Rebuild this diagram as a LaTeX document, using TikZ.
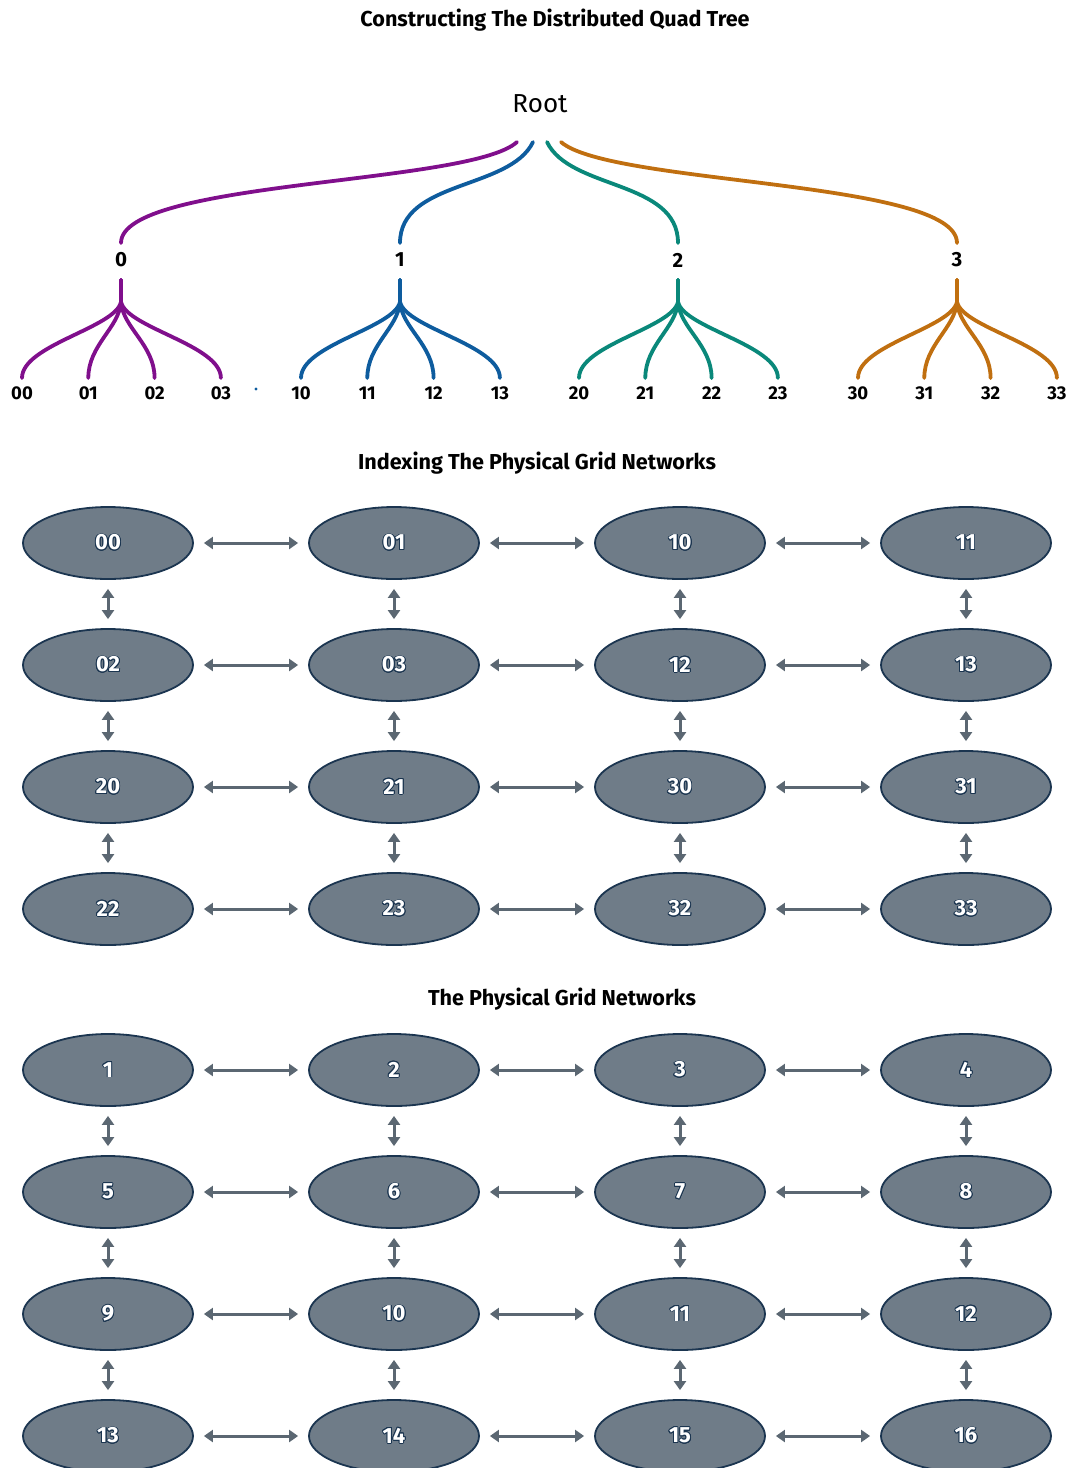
\documentclass[tikz,border=0pt]{standalone}
\usepackage{fontspec}
\setmainfont{Fira Sans}
\usepackage{contour}
\contourlength{0.9pt}
\usetikzlibrary{shapes.geometric,arrows.meta}
\definecolor{cpurple}{HTML}{800F8C}
\definecolor{cblue}{HTML}{0E5C9E}
\definecolor{cteal}{HTML}{0A887A}
\definecolor{corange}{HTML}{C06F10}
\definecolor{ellfill}{HTML}{6F7C88}
\definecolor{elldraw}{HTML}{1B3550}
\definecolor{arrcol}{HTML}{5B6772}
\tikzset{
  title/.style={font=\bfseries\fontsize{21.6}{24}\selectfont, inner sep=0},
  lvlone/.style={font=\bfseries\fontsize{20.5}{24}\selectfont, inner sep=0},
  lvltwo/.style={font=\bfseries\fontsize{18.5}{20}\selectfont, inner sep=0},
  branch/.style={line width=3.8pt, line cap=round},
  gnode/.style={ellipse, minimum width=170pt, minimum height=72pt, inner sep=0, fill=ellfill, draw=elldraw, line width=1.8pt, text=white},
  link/.style={arrcol, line width=3pt, {Triangle[length=9pt,width=12pt]}-{Triangle[length=9pt,width=12pt]}},
  hlink/.style={link, shorten <=10pt, shorten >=10pt},
  vlink/.style={link, shorten <=9pt, shorten >=9pt},
}
\newcommand{\glab}[1]{\bfseries\fontsize{22}{24}\selectfont\contour{elldraw}{#1}}
\begin{document}
\begin{tikzpicture}[x=1pt,y=-1pt]
\useasboundingbox (0,0) rectangle (1070,1468);
\clip (0,0) rectangle (1070,1468);
% ---------------- Tree ----------------
\node[title] (t1) at (555,20) {Constructing The Distributed Quad Tree};
\node[inner sep=0, font=\fontsize{26}{30}\selectfont] (root) at (540,104) {Root};
\foreach \i/\x/\c in {0/121/cpurple,1/400/cblue,2/678/cteal,3/957/corange}{
  \node[lvlone] (n\i) at (\x,260) {\i};
}
\coordinate (r0) at (517,142);
\coordinate (r1) at (533,142);
\coordinate (r2) at (547,142);
\coordinate (r3) at (561,142);
\draw[branch,cpurple] (r0) .. controls (470,185) and (121,180) .. ([yshift=17pt]n0.center);
\draw[branch,cblue] (r1) .. controls (510,190) and (400,180) .. ([yshift=17pt]n1.center);
\draw[branch,cteal] (r2) .. controls (570,190) and (678,180) .. ([yshift=17pt]n2.center);
\draw[branch,corange] (r3) .. controls (610,185) and (957,180) .. ([yshift=17pt]n3.center);
\foreach \i/\x/\c in {0/121/cpurple,1/400/cblue,2/678/cteal,3/957/corange}{
  \coordinate (j\i) at (\x,302);
  \foreach \j in {0,1,2,3}{
    \pgfmathsetmacro{\cx}{\x-99+66.3*\j}
    \node[lvltwo] (m\i\j) at (\cx,393) {\i\j};
    \pgfmathsetmacro{\dx}{\cx-\x}
    \draw[branch,\c] ([yshift=-20pt]n\i.center) -- (j\i)
      .. controls ([xshift={\dx*0.06},yshift=-26pt]j\i) and ([yshift=48pt]m\i\j.center) .. ([yshift=15pt]m\i\j.center);
  }
}
\fill[cblue] (256,389) circle (1.6pt);
% ---------------- Grid 1 ----------------
\node[title] (t2) at (537,463) {Indexing The Physical Grid Networks};
\foreach \lab [count=\k from 0] in {00,01,10,11,02,03,12,13,20,21,30,31,22,23,32,33}{
  \pgfmathtruncatemacro{\col}{mod(\k,4)}
  \pgfmathtruncatemacro{\row}{div(\k,4)}
  \node[gnode] (a\row\col) at ({108+286*\col},{543+122*\row}) {\glab{\lab}};
}
\foreach \r in {0,1,2,3}{
  \foreach \c/\d in {0/1,1/2,2/3}{
    \draw[hlink] (a\r\c.east) -- (a\r\d.west);
  }
}
\foreach \c in {0,1,2,3}{
  \foreach \r/\s in {0/1,1/2,2/3}{
    \draw[vlink] (a\r\c.south) -- (a\s\c.north);
  }
}
% ---------------- Grid 2 ----------------
\node[title] (t3) at (562,999) {The Physical Grid Networks};
\foreach \lab [count=\k from 0] in {1,2,3,4,5,6,7,8,9,10,11,12,13,14,15,16}{
  \pgfmathtruncatemacro{\col}{mod(\k,4)}
  \pgfmathtruncatemacro{\row}{div(\k,4)}
  \node[gnode] (b\row\col) at ({108+286*\col},{1070+122*\row}) {\glab{\lab}};
}
\foreach \r in {0,1,2,3}{
  \foreach \c/\d in {0/1,1/2,2/3}{
    \draw[hlink] (b\r\c.east) -- (b\r\d.west);
  }
}
\foreach \c in {0,1,2,3}{
  \foreach \r/\s in {0/1,1/2,2/3}{
    \draw[vlink] (b\r\c.south) -- (b\s\c.north);
  }
}
\end{tikzpicture}
\end{document}
